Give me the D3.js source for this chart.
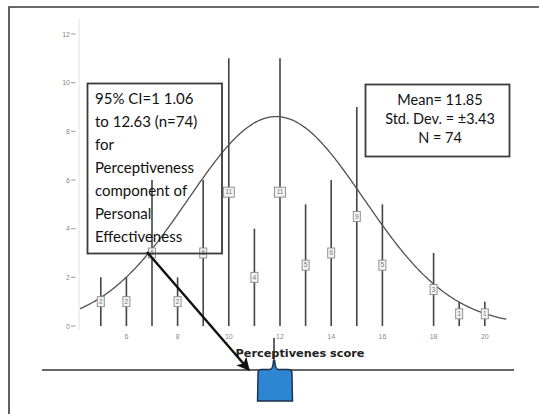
<!DOCTYPE html>
<html>
<head>
<meta charset="utf-8">
<script src="https://cdn.jsdelivr.net/npm/d3@7/dist/d3.min.js"></script>
<style>
  body { margin: 0; background: #fff; }
  svg { display: block; }
</style>
</head>
<body>
<svg id="chart" width="539" height="414"></svg>
<script>
// Frequency of Perceptiveness scores
const scores = [5, 6, 7, 8, 9, 10, 11, 12, 13, 14, 15, 16, 18, 19, 20];
const counts = [2, 2, 6, 2, 6, 11, 4, 11, 5, 6, 9, 5, 3, 1, 1];
const yTicks = [0, 2, 4, 6, 8, 10, 12];
const xTicks = [6, 8, 10, 12, 14, 16, 18, 20];

// Summary statistics
const mean = 11.85, sd = 3.43, n = 74;
const ciLines = ["95% CI=1 1.06", "to 12.63 (n=74)", "for", "Perceptiveness",
                 "component of", "Personal", "Effectiveness"];
const statLines = ["Mean= 11.85", "Std. Dev. = \u00b13.43", "N = 74"];
const xTitle = "Perceptivenes score";

const svg = d3.select("#chart");
const x = d3.scaleLinear().domain([4, 21]).range([75.2, 510.4]);
const y = d3.scaleLinear().domain([0, 12]).range([326, 34]);

// outer frame (top and left edges)
svg.append("path").attr("d", "M9,414 L9,7 L539,7")
  .attr("fill", "none").attr("stroke", "#3a3a3a").attr("stroke-width", 1.6);

// faint vertical axis line
svg.append("line").attr("x1", 79).attr("x2", 79).attr("y1", 19).attr("y2", 330)
  .attr("stroke", "#e6e6e6").attr("stroke-width", 1.2);

// y ticks
const yg = svg.append("g");
yTicks.forEach(t => {
  yg.append("text").attr("x", 70).attr("y", y(t) + 2.5).attr("text-anchor", "end")
    .attr("font-family", "Liberation Sans, Arial, sans-serif").attr("font-size", 7)
    .attr("fill", "#888").text(t);
  yg.append("line").attr("x1", 71).attr("x2", 75.5).attr("y1", y(t)).attr("y2", y(t))
    .attr("stroke", "#999").attr("stroke-width", 1);
});

// x tick labels
xTicks.forEach(t => {
  svg.append("text").attr("x", x(t)).attr("y", y(0) + 12.5).attr("text-anchor", "middle")
    .attr("font-family", "Liberation Sans, Arial, sans-serif").attr("font-size", 7)
    .attr("fill", "#888").text(t);
});

// spikes: one per score, height = frequency
const data = scores.map((s, i) => ({ s, c: counts[i] }));
svg.append("g").selectAll("line").data(data).join("line")
  .attr("x1", d => x(d.s)).attr("x2", d => x(d.s))
  .attr("y1", d => y(d.c)).attr("y2", y(0))
  .attr("stroke", "#444").attr("stroke-width", 1.6);

// fitted normal curve
const pdf = v => n / (sd * Math.sqrt(2 * Math.PI)) * Math.exp(-0.5 * ((v - mean) / sd) ** 2);
const curveX = d3.range(4.19, 20.88, 0.05);
svg.append("path").datum(curveX)
  .attr("d", d3.line().x(v => x(v)).y(v => y(pdf(v))).curve(d3.curveBasis))
  .attr("fill", "none").attr("stroke", "#505050").attr("stroke-width", 1.3);

// count markers at mid-height of each spike
const mk = svg.append("g").selectAll("g").data(data).join("g")
  .attr("transform", d => `translate(${x(d.s)},${y(d.c / 2)})`);
mk.append("rect")
  .attr("x", d => d.c >= 10 ? -5.5 : -3.5).attr("y", -5)
  .attr("width", d => d.c >= 10 ? 11 : 7).attr("height", 10)
  .attr("fill", "#f4f4f4").attr("stroke", "#888").attr("stroke-width", 0.9);
mk.append("text").attr("y", 2.3).attr("text-anchor", "middle")
  .attr("font-family", "Liberation Sans, Arial, sans-serif").attr("font-size", 6.5)
  .attr("fill", "#777").text(d => d.c);

// confidence interval note (outline only)
svg.append("rect").attr("x", 87.5).attr("y", 83.5).attr("width", 134.5).attr("height", 170)
  .attr("fill", "none").attr("stroke", "#3a3a3a").attr("stroke-width", 1.8);
svg.append("g").selectAll("text").data(ciLines).join("text")
  .attr("x", 95).attr("y", (d, i) => 103.5 + i * 23)
  .attr("font-family", "Lato, 'Noto Sans', sans-serif").attr("font-size", 15)
  .attr("fill", "#111").text(d => d);

// summary statistics box
svg.append("rect").attr("x", 365.5).attr("y", 84.5).attr("width", 144).attr("height", 72)
  .attr("fill", "#fff").attr("stroke", "#3a3a3a").attr("stroke-width", 1.8);
svg.append("g").selectAll("text").data(statLines).join("text")
  .attr("x", 440).attr("y", (d, i) => 105 + i * 19).attr("text-anchor", "middle")
  .attr("font-family", "Lato, 'Noto Sans', sans-serif").attr("font-size", 14.5)
  .attr("fill", "#111").text(d => d);

// axis title
svg.append("text").attr("x", 300).attr("y", 356.5).attr("text-anchor", "middle")
  .attr("font-family", "'DejaVu Sans', Verdana, sans-serif").attr("font-size", 11.3)
  .attr("font-weight", "bold").attr("fill", "#222").text(xTitle);

// baseline of the lower distribution
svg.append("line").attr("x1", 42).attr("x2", 514).attr("y1", 370).attr("y2", 370)
  .attr("stroke", "#333").attr("stroke-width", 1.6);

// marker line for the mean score
svg.append("line").attr("x1", 274).attr("x2", 274).attr("y1", 338).attr("y2", 366)
  .attr("stroke", "#222").attr("stroke-width", 1.4);

// blue distribution block
svg.append("path")
  .attr("d", "M257.5,401 L258,373 Q258,369.5 262,369.5 L270,369.5 Q273,369 273.4,361 L274.8,361 Q275.3,369 278,369.5 L288,369.5 Q292,369.5 292,373 L292.5,401 Z")
  .attr("fill", "#2e85d1").attr("stroke", "#1a2f4a").attr("stroke-width", 1.4);

// arrow from the note to the block
const defs = svg.append("defs");
defs.append("marker").attr("id", "arrowhead").attr("viewBox", "0 0 10 10")
  .attr("refX", 9).attr("refY", 5).attr("markerWidth", 5.5).attr("markerHeight", 5.5)
  .attr("orient", "auto")
  .append("path").attr("d", "M0,0 L10,5 L0,10 L2.5,5 Z").attr("fill", "#111");
svg.append("line").attr("x1", 147).attr("y1", 252).attr("x2", 249).attr("y2", 370)
  .attr("stroke", "#111").attr("stroke-width", 2.4).attr("marker-end", "url(#arrowhead)");
</script>
</body>
</html>
